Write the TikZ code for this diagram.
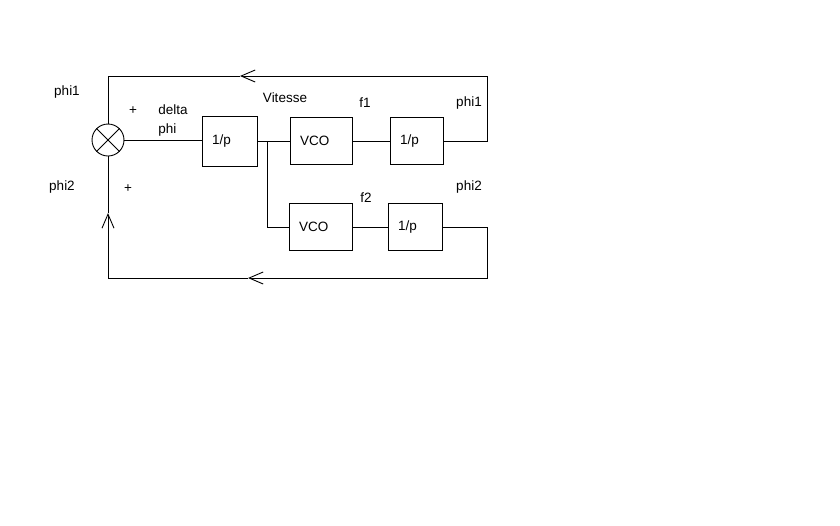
\documentclass[tikz,border=0pt]{standalone}
\usepackage{fontspec}
\setmainfont{Liberation Sans}
\usetikzlibrary{arrows.meta,positioning}

\begin{document}
\begin{tikzpicture}[x=1pt,y=-1pt,line width=0.9pt,
    font=\fontsize{13.5}{19}\selectfont,
    blk/.style={draw,rectangle,minimum height=47pt,inner xsep=10pt,align=left},
    arr/.style={-{Straight Barb[length=14pt,width=12pt,line width=0.9pt]}}]
    \path[use as bounding box,fill=white] (0,0) rectangle (840,525);

    \node[draw,circle,minimum size=32pt,inner sep=0pt] (sum) at (108,140) {};
    \draw (sum.north west) -- (sum.south east)
          (sum.north east) -- (sum.south west);

    \node[blk,text width=35pt,minimum height=50pt] (div) at (229.5,141) {1/p};
    \node[blk,text width=42pt] (vcoa) at (321,141) {VCO};
    \node[blk,text width=33pt] (diva) at (416.5,141) {1/p};
    \node[blk,text width=43pt] (vcob) at (320.5,227) {VCO};
    \node[blk,text width=34pt] (divb) at (415,227) {1/p};

    \coordinate (split) at (267,141);
    \coordinate (tr) at (487,76);
    \coordinate (tarr) at (240,76);
    \coordinate (br) at (487,278);
    \coordinate (barr) at (248,278);
    \coordinate (bl) at (108,278);
    \coordinate (larr) at (108,213);

    \draw (sum.east) -- (sum.east -| div.west);
    \draw (div.east) -- (vcoa.west);
    \draw (split) |- (vcob.west);
    \draw (vcoa.east) -- (diva.west);
    \draw (vcob.east) -- (divb.west);

    \draw[arr] (diva.east) -| (tr) -- (tarr);
    \draw (tarr) -| (sum.north);
    \draw[arr] (divb.east) -| (br) -- (barr);
    \draw[arr] (barr) -- (bl) -- (larr);
    \draw (larr) -- (sum.south);

    \node (phiin) at (67,92) {phi1};
    \node (plusa) at (133,111) {+};
    \node[align=left,anchor=north west,inner sep=0pt] (dphi) at (158,104) {delta\\phi};
    \node (phiinb) at (62,187) {phi2};
    \node (plusb) at (128,189) {+};
    \node (vit) at (285,98) {Vitesse};
    \node (fa) at (365,103) {f1};
    \node (phiout) at (469,103) {phi1};
    \node (fb) at (366,198) {f2};
    \node (phioutb) at (469,187) {phi2};
\end{tikzpicture}
\end{document}
